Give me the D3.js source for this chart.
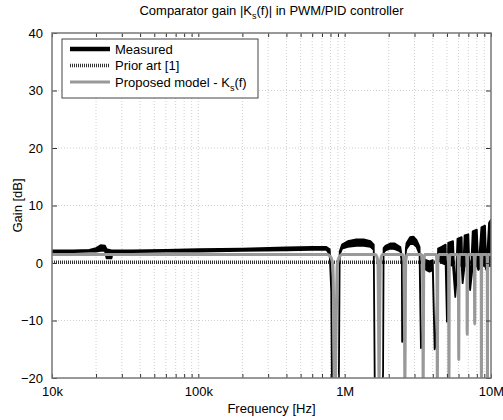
<!DOCTYPE html>
<meta charset="utf-8">
<style>
  body { margin: 0; background: #fff; }
  svg { font-family: "Liberation Sans", Arial, sans-serif; }
  .axis text { font-size: 13px; fill: #000; }
  .axis path { display: none; }
  .axis line { stroke: #333; }
  .grid line { stroke: #cfcfcf; stroke-dasharray: 1,2; }
  .grid path { display: none; }
</style>
<svg width="503" height="420"></svg>
<script src="https://cdn.jsdelivr.net/npm/d3@7"></script>
<script>

// ---- data ----
var xTickVals = [1e4, 1e5, 1e6, 1e7];
var xTickLabels = ["10k", "100k", "1M", "10M"];
var yTickVals = [-20, -10, 0, 10, 20, 30, 40];

// measured gain, noisy band (lo/hi in dB), Hz
var measF  = [10e3, 14e3, 18e3, 20e3, 21.5e3, 23e3, 23.6e3, 25.5e3, 26e3, 35e3, 60e3, 100e3, 200e3, 400e3, 600e3, 750e3, 790e3, 810e3, 820e3, 855e3, 860e3, 865e3, 910e3, 925e3, 960e3, 1.05e6, 1.2e6, 1.35e6, 1.5e6, 1.58e6, 1.61e6, 1.8e6, 1.83e6, 1.845e6, 1.9e6, 2.05e6, 2.2e6, 2.4e6, 2.46e6, 2.47e6, 2.55e6, 2.62e6, 2.65e6, 2.8e6, 2.95e6, 3.1e6, 3.25e6, 3.32e6, 3.4e6, 3.47e6, 3.6e6, 3.8e6, 4.0e6, 4.12e6, 4.2e6, 4.35e6, 4.6e6, 4.9e6, 5.0e6, 5.1e6, 5.5e6, 5.7e6, 5.9e6, 6.3e6, 6.4e6, 6.6e6, 7.0e6, 7.2e6, 7.5e6, 8.0e6, 8.2e6, 8.6e6, 9.1e6, 9.3e6, 9.7e6, 10e6];
var measLo = [1.9, 1.9, 2.0, 2.0, 2.1, 2.1, 0.8, 0.8, 1.9, 1.9, 2.0, 2.0, 2.1, 2.2, 2.3, 2.3, 1.5, -5, -25, -25, -8.5, -25, -25, 1.5, 2.5, 2.8, 3.0, 3.0, 2.8, 2.3, -25, -25, -19, 1.8, 2.2, 2.5, 2.4, 2.0, 0, -13.7, -13, 2.0, 2.5, 3.3, 3.3, 2.8, 1.5, -14.8, -14, -0.5, -1.2, -1.5, -1.2, -15, -14, 0.5, 0, -0.3, -10.2, -0.3, -0.5, -5.9, -0.5, -0.5, -3.5, -0.5, -0.5, -4.7, -0.5, -0.5, -1.2, -0.5, -0.5, -1.2, -0.5, -0.5];
var measHi = [2.2, 2.2, 2.3, 2.6, 3.1, 3.0, 2.4, 2.2, 2.2, 2.2, 2.3, 2.4, 2.5, 2.7, 2.8, 2.8, 2.4, -3, -25, -25, -8.5, -25, -25, 2.0, 3.2, 3.8, 4.1, 4.1, 3.8, 3.2, -25, -25, -19, 2.6, 3.0, 3.4, 3.4, 2.8, 1.0, -13.7, -13, 2.6, 3.5, 4.5, 4.6, 4.0, 2.8, -14.8, -14, 0.8, 0.5, 0.3, 0.5, -15, -14, 2.5, 2.8, 3.2, -10.2, 3.5, 3.8, -5.9, 4.2, 4.5, -3.5, 4.8, 5.0, -4.7, 5.5, 5.8, -1.2, 6.2, 6.5, -1.2, 7.0, 7.5];

// prior art [1]: flat
var priorF  = [1e4, 1e7];
var priorDb = [0.15, 0.15];

// proposed model: flat level with notches at multiples of ~0.86 MHz
var propLevel  = 1.5;
var notchF     = [0.86e6, 1.72e6, 2.58e6, 3.44e6, 4.30e6, 5.16e6, 6.02e6, 6.88e6, 7.74e6, 8.60e6, 9.46e6, 10.32e6];
var notchDepth = [-22, -22, -22, -22, -22, -22, -16.8, -12.4, -10.6, -22, -22, -22];
// notch outline: offset from centre (Hz) and level (dB, null = notch bottom)
var notchOffHz = [-100e3, -60e3, -30e3, -18e3, 0, 18e3, 30e3, 60e3, 100e3];
var notchDb    = [1.5, 1.1, -0.3, -8, null, -8, -0.3, 1.1, 1.5];

// ---- layout ----
var svg = d3.select("svg"),
    margin = {top: 33, right: 12, bottom: 42, left: 52},
    W = +svg.attr("width"), H = +svg.attr("height");

var x = d3.scaleLog().domain([1e4, 1e7]).range([margin.left, W - margin.right]),
    y = d3.scaleLinear().domain([-20, 40]).range([H - margin.bottom, margin.top]);

svg.append("defs").append("clipPath").attr("id", "clip")
  .append("rect")
  .attr("x", x.range()[0]).attr("y", y.range()[1])
  .attr("width", x.range()[1] - x.range()[0])
  .attr("height", y.range()[0] - y.range()[1]);

// minor log positions
var minorVals = [];
[1e4, 1e5, 1e6].forEach(function(dec) {
  for (var k = 1; k < 10; k++) minorVals.push(k * dec);
});
minorVals.push(1e7);

// grid
svg.append("g").attr("class", "grid")
  .selectAll("line").data(minorVals.filter(function(v) { return v > 1e4 && v < 1e7; }))
  .enter().append("line")
  .attr("x1", function(d) { return x(d); }).attr("x2", function(d) { return x(d); })
  .attr("y1", y(-20)).attr("y2", y(40));
svg.append("g").attr("class", "grid")
  .selectAll("line").data(yTickVals.filter(function(v) { return v > -20 && v < 40; }))
  .enter().append("line")
  .attr("x1", x(1e4)).attr("x2", x(1e7))
  .attr("y1", function(d) { return y(d); }).attr("y2", function(d) { return y(d); });

var plot = svg.append("g").attr("clip-path", "url(#clip)");

// prior art
var priorPts = priorF.map(function(f, i) { return [f, priorDb[i]]; });
plot.append("path")
  .datum(priorPts)
  .attr("fill", "none")
  .attr("stroke", "#333")
  .attr("stroke-width", 3.5)
  .attr("stroke-dasharray", "1,1")
  .attr("d", d3.line().x(function(d) { return x(d[0]); }).y(function(d) { return y(d[1]); }));

// measured
var measPts = measF.map(function(f, i) { return {f: f, lo: measLo[i], hi: measHi[i]}; });
plot.append("path")
  .datum(measPts)
  .attr("fill", "#000")
  .attr("stroke", "#000")
  .attr("stroke-width", 1.8)
  .attr("stroke-linejoin", "round")
  .attr("d", d3.area()
    .x(function(d) { return x(d.f); })
    .y0(function(d) { return y(d.lo); })
    .y1(function(d) { return y(d.hi); }));

// proposed model
var propPts = [[1e4, propLevel]];
notchF.forEach(function(fc, n) {
  notchOffHz.forEach(function(off, j) {
    propPts.push([fc + off, notchDb[j] === null ? notchDepth[n] : notchDb[j]]);
  });
});
propPts = propPts.filter(function(p) { return p[0] <= 1.05e7; });
plot.append("path")
  .datum(propPts)
  .attr("fill", "none")
  .attr("stroke", "#999")
  .attr("stroke-width", 3)
  .attr("stroke-linejoin", "round")
  .attr("d", d3.line().curve(d3.curveMonotoneX)
    .x(function(d) { return x(d[0]); }).y(function(d) { return y(d[1]); }));

// axes (ticks inside, on all four sides)
var fmt = function(d) { var i = xTickVals.indexOf(d); return i < 0 ? "" : xTickLabels[i]; };

svg.append("g").attr("class", "axis")
  .attr("transform", "translate(0," + y(-20) + ")")
  .call(d3.axisBottom(x).tickValues(minorVals).tickFormat(fmt).tickSizeInner(-4).tickPadding(9));
svg.append("g").attr("class", "axis")
  .attr("transform", "translate(0," + y(40) + ")")
  .call(d3.axisTop(x).tickValues(minorVals).tickFormat("").tickSizeInner(-4));
svg.append("g").attr("class", "axis")
  .attr("transform", "translate(" + x(1e4) + ",0)")
  .call(d3.axisLeft(y).tickValues(yTickVals).tickSizeInner(-5).tickPadding(9));
svg.append("g").attr("class", "axis")
  .attr("transform", "translate(" + x(1e7) + ",0)")
  .call(d3.axisRight(y).tickValues(yTickVals).tickFormat("").tickSizeInner(-5));

// frame
svg.append("rect")
  .attr("x", x(1e4)).attr("y", y(40))
  .attr("width", x(1e7) - x(1e4)).attr("height", y(-20) - y(40))
  .attr("fill", "none").attr("stroke", "#777").attr("stroke-width", 1.5);

// title and labels
var title = svg.append("text")
  .attr("x", (x(1e4) + x(1e7)) / 2).attr("y", 15)
  .attr("text-anchor", "middle").style("font-size", "13px");
title.append("tspan").text("Comparator gain |K");
title.append("tspan").attr("dy", 4).style("font-size", "9px").text("s");
title.append("tspan").attr("dy", -4).text("(f)| in PWM/PID controller");

svg.append("text")
  .attr("x", (x(1e4) + x(1e7)) / 2).attr("y", 413)
  .attr("text-anchor", "middle").style("font-size", "13px")
  .text("Frequency [Hz]");

svg.append("text")
  .attr("transform", "translate(22," + (y(-20) + y(40)) / 2 + ") rotate(-90)")
  .attr("text-anchor", "middle").style("font-size", "13px")
  .text("Gain [dB]");

// legend
var lg = svg.append("g");
lg.append("rect")
  .attr("x", 62).attr("y", 39).attr("width", 196).attr("height", 59)
  .attr("fill", "#fff").attr("stroke", "#444").attr("stroke-width", 1);

var legendRows = [
  {label: "Measured", color: "#000", width: 4.5, dash: null},
  {label: "Prior art [1]", color: "#333", width: 3.5, dash: "1,1"},
  {label: "Proposed model - K", color: "#999", width: 3, dash: null, sub: "s", tail: "(f)"}
];
legendRows.forEach(function(r, i) {
  var ly = 49 + i * 16.5;
  lg.append("line")
    .attr("x1", 70).attr("x2", 110).attr("y1", ly).attr("y2", ly)
    .attr("stroke", r.color).attr("stroke-width", r.width)
    .attr("stroke-dasharray", r.dash);
  var t = lg.append("text").attr("x", 115).attr("y", ly + 4.5).style("font-size", "13px");
  t.append("tspan").text(r.label);
  if (r.sub) {
    t.append("tspan").attr("dy", 4).style("font-size", "9px").text(r.sub);
    t.append("tspan").attr("dy", -4).text(r.tail);
  }
});

</script>
